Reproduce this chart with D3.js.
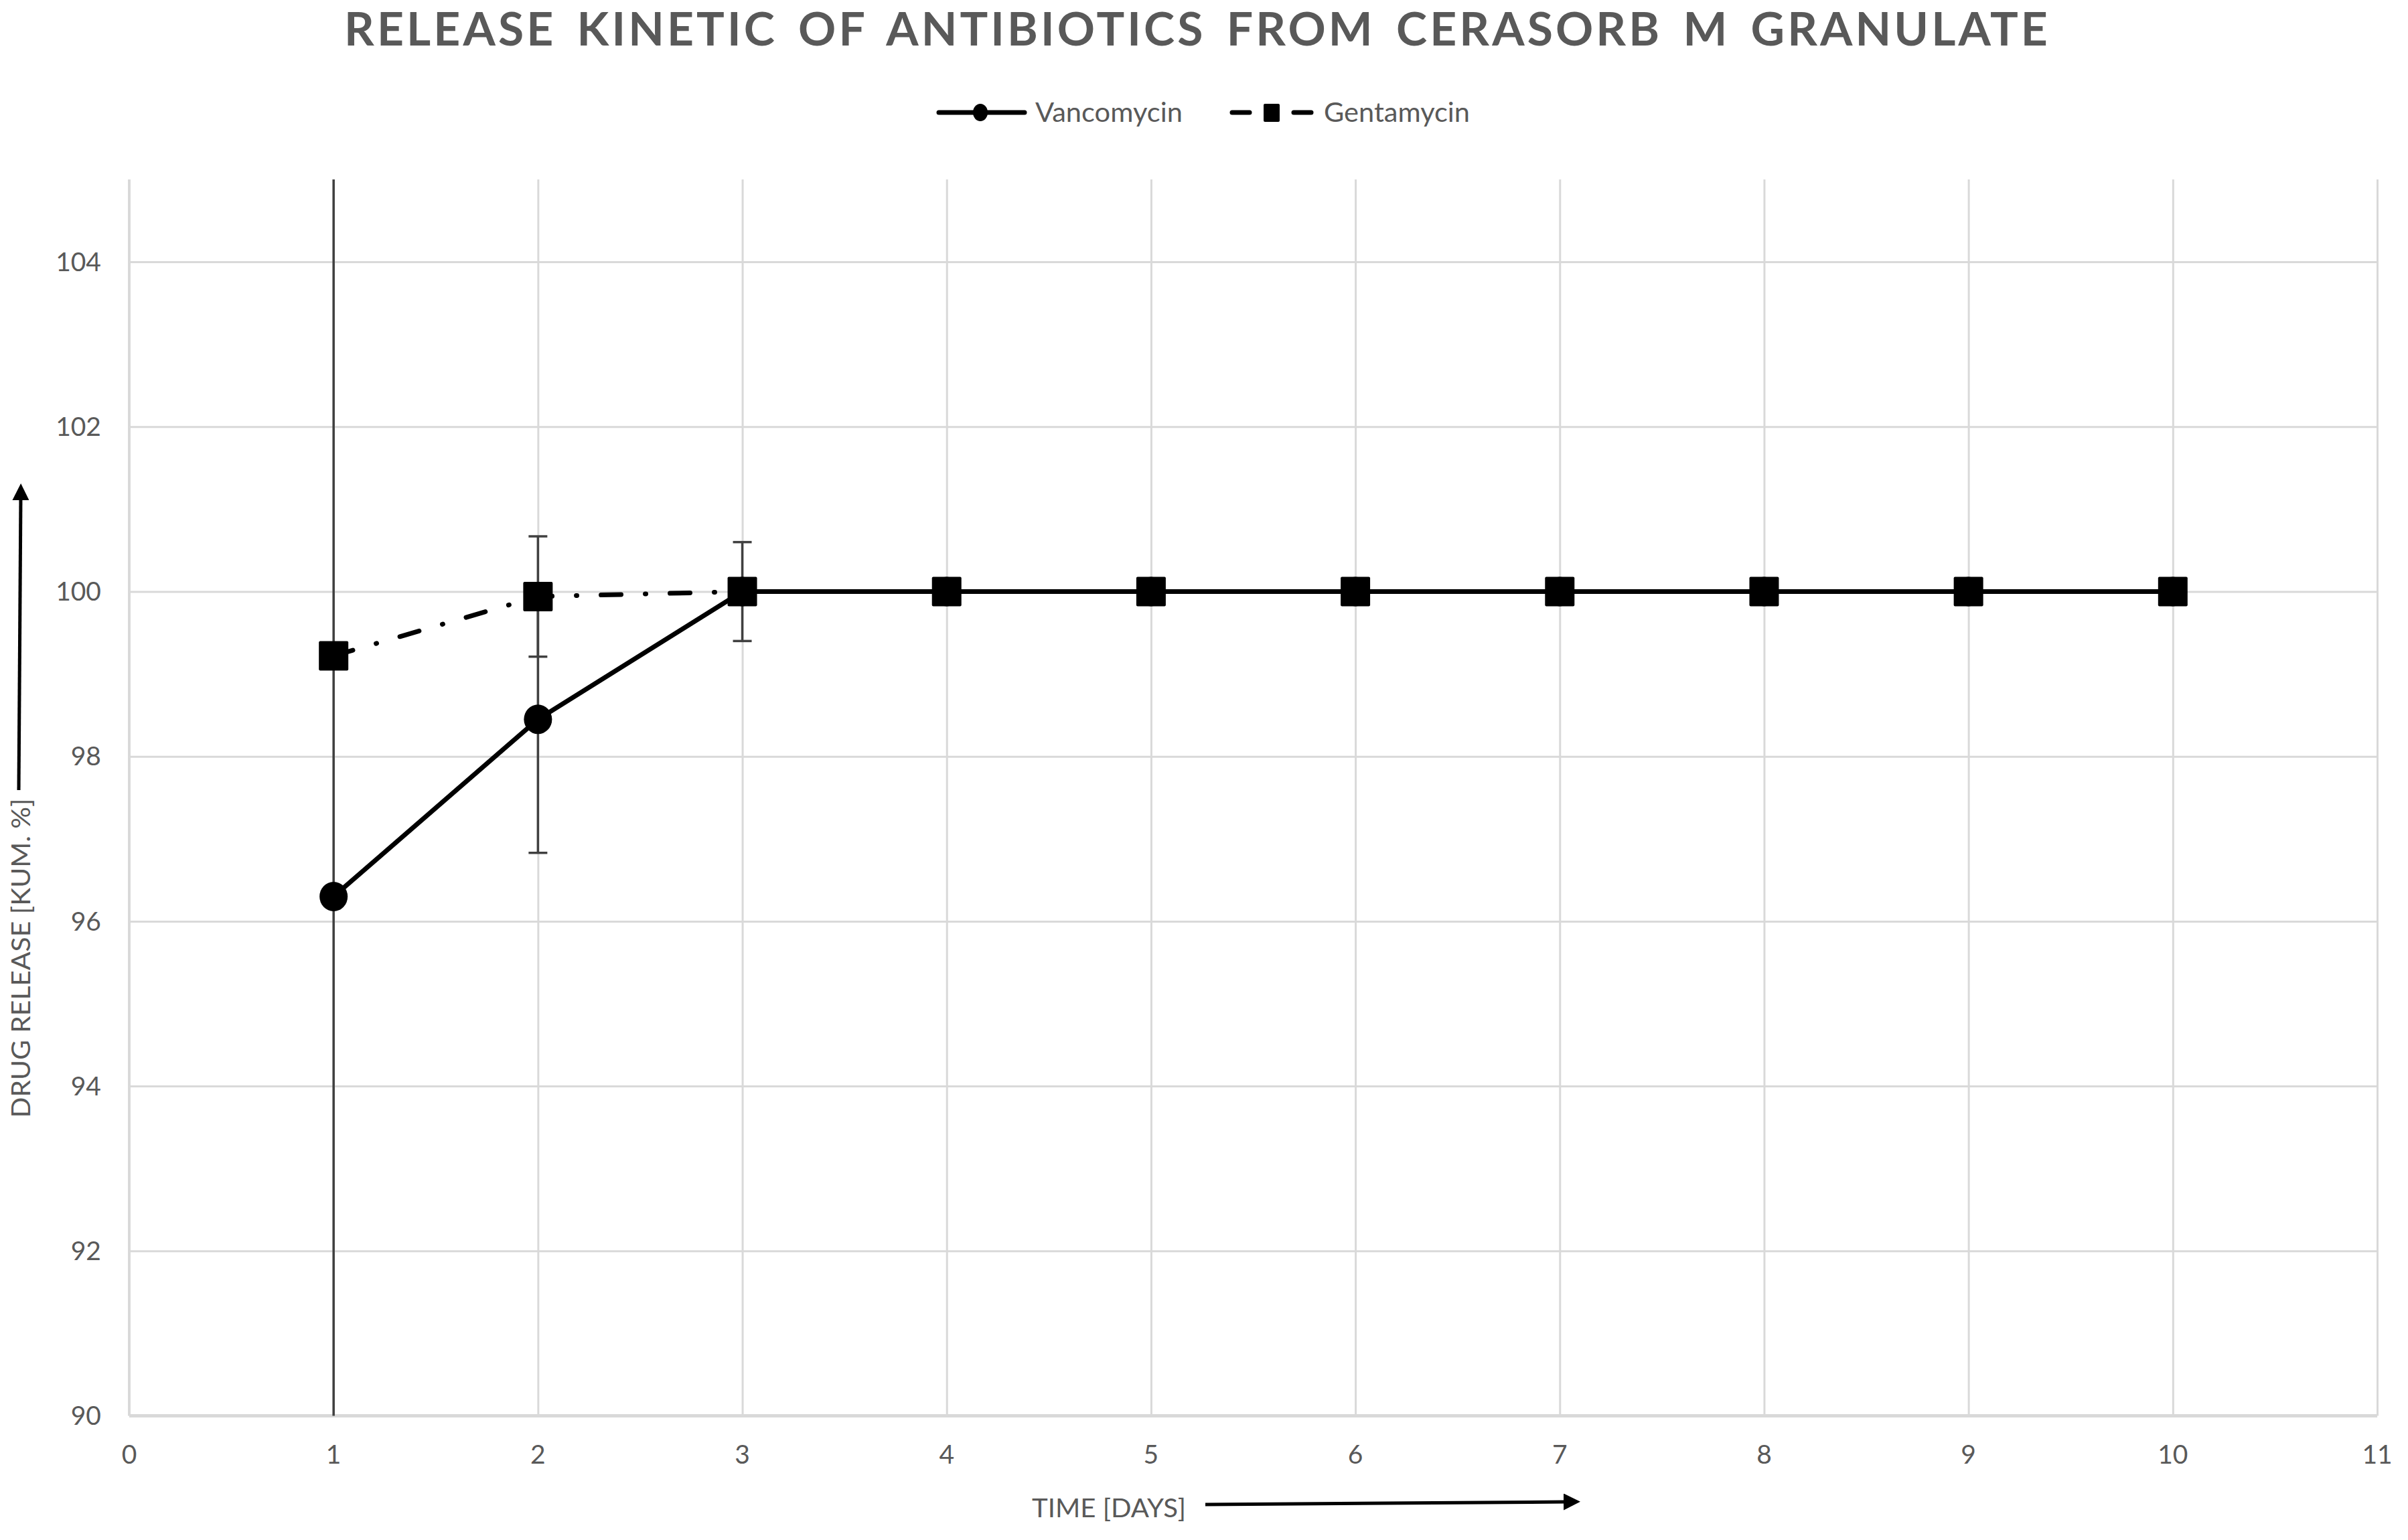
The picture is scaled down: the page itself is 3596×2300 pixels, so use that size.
<!DOCTYPE html>
<html><head><meta charset="utf-8">
<script src="https://cdn.jsdelivr.net/npm/d3@7"></script>
<style>html,body{margin:0;padding:0;background:#fff}</style>
</head><body>
<svg id="c" width="3596" height="2300"></svg>
<script>
const days = [1,2,3,4,5,6,7,8,9,10];
const vancomycin = [96.3, 98.45, 100, 100, 100, 100, 100, 100, 100, 100];
const vancomycinErr = [9.5, 1.62, 0.6, 0, 0, 0, 0, 0, 0, 0];
const gentamycin = [99.22, 99.94, 100, 100, 100, 100, 100, 100, 100, 100];
const gentamycinErr = [0, 0.73, 0, 0, 0, 0, 0, 0, 0, 0];
const xTicks = [0,1,2,3,4,5,6,7,8,9,10,11];
const yTicks = [90,92,94,96,98,100,102,104];
const titleText = "RELEASE KINETIC OF ANTIBIOTICS FROM CERASORB M GRANULATE";
const xTitle = "TIME [DAYS]";
const yTitle = "DRUG RELEASE [KUM. %]";
const seriesNames = ["Vancomycin", "Gentamycin"];

const svg = d3.select("#c");
const L = 193, R = 3550, T = 268, B = 2114.5;
const x = d3.scaleLinear().domain([0, 11]).range([L, R]);
const y = d3.scaleLinear().domain([90, 105]).range([B, T]);
const font = "Lato, 'Open Sans', sans-serif";
const txt = "#595959";
const grid = "#d9d9d9";

// title
svg.append("text").attr("x", (514+3062)/2).attr("y", 68).attr("text-anchor","middle")
  .attr("font-family", font).attr("font-weight", 700).attr("font-size", 68).attr("fill", txt)
  .attr("word-spacing", 10).attr("letter-spacing", 4)
  .attr("textLength", 2548).attr("lengthAdjust", "spacingAndGlyphs").text(titleText);

// gridlines via axes
const gx = svg.append("g").attr("transform", `translate(0,${B})`)
  .call(d3.axisBottom(x).tickValues(xTicks).tickSize(-(B - T)).tickFormat(""));
gx.select(".domain").remove();
gx.selectAll("line").attr("stroke", grid).attr("stroke-width", 3);
const gy = svg.append("g").attr("transform", `translate(${L},0)`)
  .call(d3.axisLeft(y).tickValues(yTicks).tickSize(-(R - L)).tickFormat(""));
gy.select(".domain").remove();
gy.selectAll("line").attr("stroke", grid).attr("stroke-width", 3);
svg.append("line").attr("x1", L).attr("x2", R).attr("y1", B).attr("y2", B).attr("stroke", grid).attr("stroke-width", 5);
svg.append("line").attr("x1", L).attr("x2", L).attr("y1", T).attr("y2", B).attr("stroke", grid).attr("stroke-width", 4);

// tick labels
svg.append("g").selectAll("text").data(yTicks).join("text")
  .attr("x", 151).attr("y", d => y(d)).attr("dy", "0.35em").attr("text-anchor", "end")
  .attr("font-family", font).attr("font-size", 39).attr("fill", txt).text(d => d);
svg.append("g").selectAll("text").data(xTicks).join("text")
  .attr("x", d => x(d)).attr("y", 2172).attr("dy", "0.35em").attr("text-anchor", "middle")
  .attr("font-family", font).attr("font-size", 39).attr("fill", txt).text(d => d);

// axis titles + arrows
const defs = svg.append("defs");
defs.append("marker").attr("id","ah").attr("viewBox","0 0 10 10").attr("refX",2).attr("refY",5)
  .attr("markerWidth",5).attr("markerHeight",5).attr("orient","auto")
  .append("path").attr("d","M0,0 L10,5 L0,10 z").attr("fill","#000");
svg.append("text").attr("x", 1656).attr("y", 2266).attr("text-anchor","middle")
  .attr("font-family", font).attr("font-size", 38).attr("fill", txt)
  .attr("textLength", 230).attr("lengthAdjust","spacingAndGlyphs").text(xTitle);
svg.append("line").attr("x1", 1800).attr("y1", 2247).attr("x2", 2340).attr("y2", 2243)
  .attr("stroke", "#000").attr("stroke-width", 5).attr("marker-end", "url(#ah)");
svg.append("text").attr("transform", "translate(45,1431) rotate(-90)").attr("text-anchor","middle")
  .attr("font-family", font).attr("font-size", 38).attr("fill", txt)
  .attr("textLength", 477).attr("lengthAdjust","spacingAndGlyphs").text(yTitle);
svg.append("line").attr("x1", 28).attr("y1", 1180).attr("x2", 31).attr("y2", 742)
  .attr("stroke", "#000").attr("stroke-width", 5).attr("marker-end", "url(#ah)");

// clip
defs.append("clipPath").attr("id","plot").append("rect").attr("x", L).attr("y", T).attr("width", R-L).attr("height", B-T);
const plot = svg.append("g").attr("clip-path", "url(#plot)");

const vData = days.map((d,i) => ({d, v: vancomycin[i], e: vancomycinErr[i]}));
const gData = days.map((d,i) => ({d, v: gentamycin[i], e: gentamycinErr[i]}));

function errBars(data) {
  const g = plot.append("g").attr("stroke", "#404040").attr("stroke-width", 3.5);
  data.filter(p => p.e > 0).forEach(p => {
    g.append("line").attr("x1", x(p.d)).attr("x2", x(p.d)).attr("y1", y(p.v - p.e)).attr("y2", y(p.v + p.e));
    [p.v - p.e, p.v + p.e].forEach(c => g.append("line").attr("x1", x(p.d)-14).attr("x2", x(p.d)+14).attr("y1", y(c)).attr("y2", y(c)));
  });
}
errBars(vData);
errBars(gData);

const line = d3.line().x(p => x(p.d)).y(p => y(p.v));
plot.append("path").datum(gData).attr("d", line).attr("fill","none").attr("stroke","#000")
  .attr("stroke-width", 7).attr("stroke-dasharray", "30,36,1,36").attr("stroke-linecap","round");
plot.append("path").datum(vData).attr("d", line).attr("fill","none").attr("stroke","#000")
  .attr("stroke-width", 7);
plot.append("g").selectAll("ellipse").data(vData).join("ellipse")
  .attr("cx", p => x(p.d)).attr("cy", p => y(p.v)).attr("rx", 21).attr("ry", 22).attr("fill", "#000");
plot.append("g").selectAll("rect").data(gData).join("rect")
  .attr("x", p => x(p.d) - 22).attr("y", p => y(p.v) - 22).attr("width", 44).attr("height", 44)
  .attr("rx", 2).attr("fill", "#000");

// legend
const lg = svg.append("g");
lg.append("line").attr("x1", 1402).attr("x2", 1530).attr("y1", 168).attr("y2", 168).attr("stroke","#000").attr("stroke-width",7).attr("stroke-linecap","round");
lg.append("ellipse").attr("cx", 1464).attr("cy", 168).attr("rx", 11).attr("ry", 13).attr("fill","#000");
lg.append("text").attr("x", 1546).attr("y", 168).attr("dy","0.35em").attr("font-family", font).attr("font-size", 41).attr("fill", txt)
  .attr("textLength", 220).attr("lengthAdjust","spacingAndGlyphs").text(seriesNames[0]);
lg.append("line").attr("x1", 1840).attr("x2", 1866).attr("y1", 168).attr("y2", 168).attr("stroke","#000").attr("stroke-width",7).attr("stroke-linecap","round");
lg.append("rect").attr("x", 1887).attr("y", 155).attr("width", 24).attr("height", 27).attr("rx", 2).attr("fill","#000");
lg.append("line").attr("x1", 1932).attr("x2", 1958).attr("y1", 168).attr("y2", 168).attr("stroke","#000").attr("stroke-width",7).attr("stroke-linecap","round");
lg.append("text").attr("x", 1977).attr("y", 168).attr("dy","0.35em").attr("font-family", font).attr("font-size", 41).attr("fill", txt)
  .attr("textLength", 218).attr("lengthAdjust","spacingAndGlyphs").text(seriesNames[1]);
</script>
</body></html>
